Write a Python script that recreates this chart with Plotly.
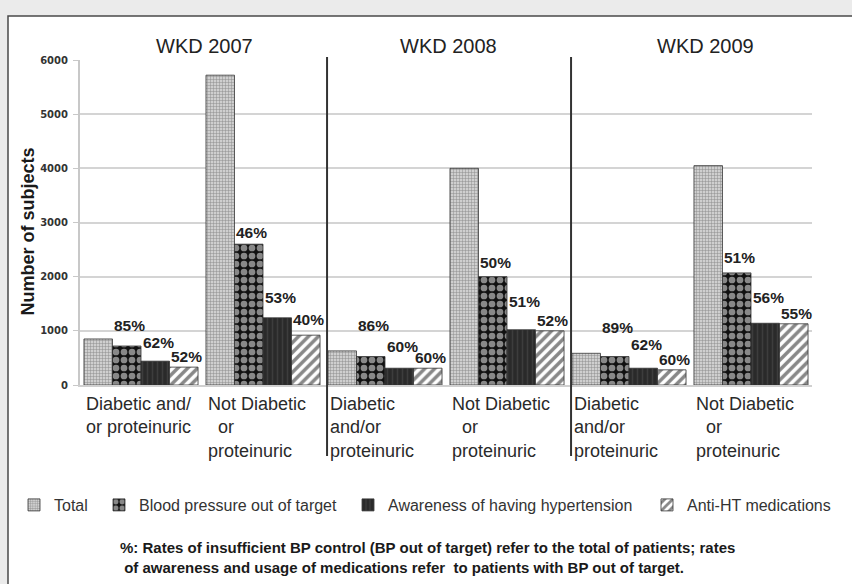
import plotly.graph_objects as go

# ---- data ----
years = ["WKD 2007", "WKD 2008", "WKD 2009"]
categories = [
    "Diabetic and/<br>or proteinuric",
    "Not Diabetic<br>\u00a0\u00a0or<br>proteinuric",
    "Diabetic<br>and/or<br>proteinuric",
    "Not Diabetic<br>\u00a0\u00a0or<br>proteinuric",
    "Diabetic<br>and/or<br>proteinuric",
    "Not Diabetic<br>\u00a0\u00a0or<br>proteinuric",
]
series_names = ["Total", "Blood pressure out of target",
                "Awareness of having hypertension", "Anti-HT medications"]
total = [850, 5720, 630, 4000, 585, 4050]
bp_out = [720, 2600, 525, 2000, 525, 2070]
aware = [440, 1240, 310, 1020, 310, 1140]
anti_ht = [330, 920, 310, 1000, 280, 1130]
bp_pct = ["85%", "46%", "86%", "50%", "89%", "51%"]
aware_pct = ["62%", "53%", "60%", "51%", "62%", "56%"]
anti_pct = ["52%", "40%", "60%", "52%", "60%", "55%"]
y_ticks = [0, 1000, 2000, 3000, 4000, 5000, 6000]
footnote = ("%: Rates of insufficient BP control (BP out of target) refer to the total of patients; rates<br>"
            "\u00a0of awareness and usage of medications refer \u00a0to patients with BP out of target.")

FONT = "Liberation Sans, Arial, sans-serif"
xs = list(range(len(categories)))
n = len(categories)

# ---- styles ----
patterns = [
    dict(shape="+", fgcolor="#474747", bgcolor="#cfcfcf", size=3, solidity=0.3),
    dict(shape=".", fgcolor="#ffffff", bgcolor="#111111", size=8, solidity=0.55),
    dict(shape="|", fgcolor="#505050", bgcolor="#2a2a2a", size=5, solidity=0.3),
    dict(shape="/", fgcolor="#111111", bgcolor="#ffffff", size=7, solidity=0.5),
]
values = [total, bp_out, aware, anti_ht]
texts = [None, bp_pct, aware_pct, anti_pct]
# vertical lift (px) of the percentage labels above their bars, per series / per group
label_lift = [None,
              [10, 1, 21, 4, 19, 5],
              [8, 10, 11, 18, 13, 15],
              [0, 5, 0, 0, 0, 0]]
legend_ids = ["legend", "legend2", "legend3", "legend4"]
legend_text_px = [54, 139, 388, 687]
bargap = 0.065

W, H = 852, 584
ml, mr, mt, mb = 80, 40, 60, 199
pw, ph = W - ml - mr, H - mt - mb


def px_x(px):
    return (px - ml) / pw


def px_y(py):
    return (H - mb - py) / ph


fig = go.Figure()
for name, vals, pat, lg in zip(series_names, values, patterns, legend_ids):
    fig.add_trace(go.Bar(
        x=xs, y=vals, name=name, legend=lg,
        marker=dict(color=pat["bgcolor"], pattern=pat,
                    line=dict(color="#333333", width=0.8)),
        hoverinfo="skip",
    ))

annotations = []
bw = (1 - bargap) / len(values)
for k, (txt, vals, lift) in enumerate(zip(texts, values, label_lift)):
    if txt is None:
        continue
    for i in xs:
        annotations.append(dict(
            x=i + (k - (len(values) - 1) / 2) * bw, y=vals[i], xref="x", yref="y",
            text=txt[i], showarrow=False, xanchor="center", yanchor="bottom",
            yshift=lift[i], xshift=3,
            font=dict(family=FONT, size=15.5, color="#222222", weight="bold")))

title_x = [0.52, 2.52, 4.63]
for yr, tx in zip(years, title_x):
    annotations.append(dict(x=tx, y=px_y(46), xref="x", yref="paper", text=yr,
                            showarrow=False, xanchor="center", yanchor="middle",
                            font=dict(family=FONT, size=20, color="#222222")))
for i, cat in enumerate(categories):
    annotations.append(dict(x=i, y=px_y(392), xref="x", yref="paper", text=cat,
                            showarrow=False, xanchor="left", yanchor="top", align="left",
                            xshift=-57,
                            font=dict(family=FONT, size=18, color="#2a2a2a")))
annotations.append(dict(x=px_x(27.5), y=px_y(232), xref="paper", yref="paper",
                        text="<b>Number of subjects</b>", textangle=-90, showarrow=False,
                        xanchor="center", yanchor="middle",
                        font=dict(family=FONT, size=18, color="#1a1a1a")))
annotations.append(dict(x=px_x(427), y=px_y(557), xref="paper", yref="paper",
                        text="<b>" + footnote + "</b>", showarrow=False,
                        xanchor="center", yanchor="middle", align="left",
                        font=dict(family=FONT, size=15, color="#1a1a1a")))

shapes = [
    dict(type="rect", xref="paper", yref="paper",
         x0=px_x(8), x1=px_x(920), y0=px_y(660), y1=px_y(16),
         fillcolor="white", line=dict(color="#4a4a4a", width=1.5), layer="below"),
]
for i in (1, 3):
    xp = (i + 1 + 0.025) / n
    shapes.append(dict(type="line", xref="paper", yref="paper",
                       x0=xp, x1=xp, y0=px_y(456), y1=px_y(57),
                       line=dict(color="#333333", width=2)))

legends = {}
for lg, tpx in zip(legend_ids, legend_text_px):
    legends[lg] = dict(orientation="h", x=px_x(tpx - 40), y=px_y(505),
                       xanchor="left", yanchor="middle",
                       font=dict(family=FONT, size=16, color="#333333"),
                       bgcolor="rgba(0,0,0,0)")

fig.update_layout(
    width=W, height=H,
    margin=dict(l=ml, r=mr, t=mt, b=mb, pad=0),
    paper_bgcolor="#ebebeb", plot_bgcolor="rgba(0,0,0,0)",
    barmode="group", bargap=bargap, bargroupgap=0,
    showlegend=True,
    xaxis=dict(range=[-0.5, n - 0.5], showticklabels=False, ticks="",
               showgrid=False, zeroline=False, showline=True,
               linecolor="#d0d0d0", linewidth=1.5, fixedrange=True),
    yaxis=dict(range=[0, 6000], tickvals=y_ticks, ticktext=[str(v) for v in y_ticks],
               showgrid=True, gridcolor="#d4d4d4", gridwidth=1.5,
               zeroline=False, showline=True, linecolor="#c8c8c8", linewidth=2,
               ticks="outside", ticklen=5, tickcolor="#c8c8c8", ticklabelstandoff=3,
               fixedrange=True,
               tickfont=dict(family="DejaVu Sans, sans-serif", size=10, color="#333333",
                             weight="bold")),
    shapes=shapes, annotations=annotations,
    font=dict(family=FONT),
    **legends,
)

fig.write_html("out.html", config={"displayModeBar": False},
               post_script="document.body.style.margin='0';"
                           "document.body.style.background='#ebebeb';")
